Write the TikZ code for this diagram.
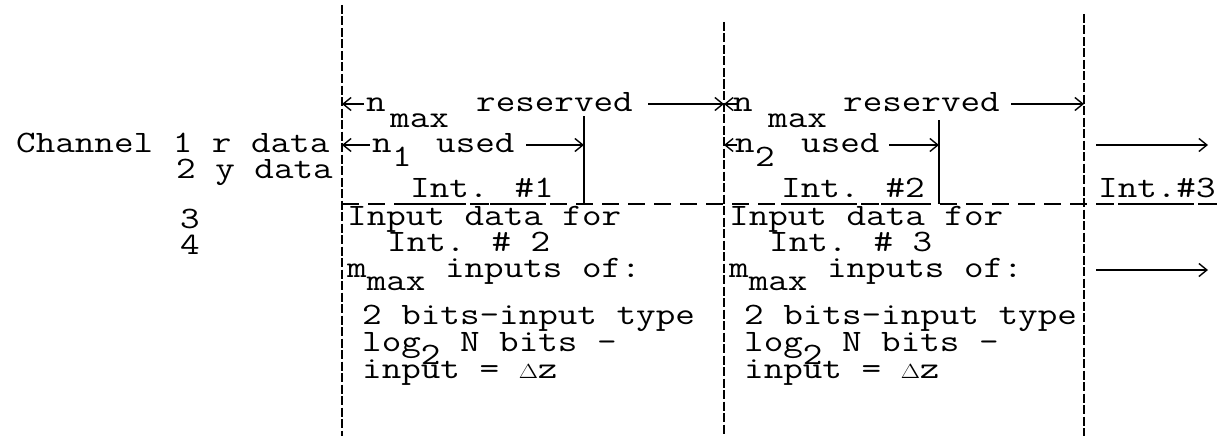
\documentclass[tikz,border=0pt]{standalone}
\usepackage{fontspec}
\usetikzlibrary{arrows.meta}
% a typed subscript: the carriage rolled down half a line
\newcommand\dn[1]{\raisebox{-17pt}{#1}}
\tikzset{
  txt/.style={font=\ttfamily\fontsize{38}{38}\selectfont, inner sep=0pt,
              anchor=base west, yscale=0.82},
  rule/.style={line width=1.1pt, dash pattern=on 9pt off 2.5pt},
  stopline/.style={line width=1.6pt},
  ruleh/.style={line width=1.6pt, dash pattern=on 17pt off 9pt},
  uline/.style={line width=1.6pt, dash pattern=on 16pt off 4pt},
  arr/.style={line width=1.5pt, -{Straight Barb[length=8pt,width=13pt,line width=1.4pt]}},
}
\begin{document}
\begin{tikzpicture}[x=1pt,y=-1pt]
\useasboundingbox (0,0) rectangle (1226,436);

% ---- column rules
\coordinate (r1t) at (342,5);   \coordinate (r1b) at (342,436);
\coordinate (r2t) at (724,22);  \coordinate (r2b) at (724,436);
\coordinate (r3t) at (1084,14); \coordinate (r3b) at (1084,436);
\draw[rule] (r1t) -- (r1b);
\draw[rule] (r2t) -- (r2b);
\draw[rule] (r3t) -- (r3b);

% ---- end of the used part of each interval
\coordinate (s1t) at (584,116); \coordinate (s1b) at (584,204);
\coordinate (s2t) at (939,120); \coordinate (s2b) at (939,204);
\draw[stopline] (s1t) -- (s1b);
\draw[stopline] (s2t) -- (s2b);

% ---- dashed boundary between the interval data and the input data
\coordinate (h0) at (342,204); \coordinate (h9) at (1222,204);
\draw[ruleh] (h0) -- (h9);

% ---- channel labels
\node[txt] (ch1) at (16,152) {Channel 1 r data};
\node[txt] (ch2) at (176,178) {2 y data};
\node[txt] (ch3) at (180,228) {3};
\node[txt] (ch4) at (180,254) {4};

% ---- interval 1: reserved / used
\coordinate (a1) at (364,104);
\draw[arr] (a1) -- (a1 -| r1t);
\node[txt] (n1r) at (366,111) {n};
\node[txt] (m1r) at (390,127) {max};
\node[txt] (res1) at (476,111) {reserved};
\coordinate (b1) at (648,104);
\draw[arr] (b1) -- (b1 -| r2t);

\coordinate (c1) at (370,145);
\draw[arr] (c1) -- (c1 -| r1t);
\node[txt] (n1u) at (372,152) {n};
\node[txt] (k1u) at (392,166) {1};
\node[txt] (used1) at (436,152) {used};
\coordinate (d1) at (526,145);
\draw[arr] (d1) -- (d1 -| s1t);

% ---- interval 2: reserved / used
\coordinate (a2) at (737,104);
\draw[arr] (a2) -- (a2 -| r2t);
\node[txt] (n2r) at (733,111) {n};
\node[txt] (m2r) at (768,127) {max};
\node[txt] (res2) at (843,111) {reserved};
\coordinate (b2) at (1011,104);
\draw[arr] (b2) -- (b2 -| r3t);

\coordinate (c2) at (737,145);
\draw[arr] (c2) -- (c2 -| r2t);
\node[txt] (n2u) at (735,152) {n};
\node[txt] (k2u) at (755,166) {2};
\node[txt] (used2) at (801,152) {used};
\coordinate (d2) at (889,145);
\draw[arr] (d2) -- (d2 -| s2t);

% ---- interval titles, typed with underscores
\node[txt] (int1) at (410,197) {Int. \#1};
\node[txt] (int2) at (781,197) {Int. \#2};
\node[txt] (int3) at (1098,197) {Int.\#3};
\foreach \n in {int1,int2,int3}
  \draw[uline] ([yshift=-7pt]\n.base west) -- ([yshift=-7pt]\n.base east);

% ---- input data blocks
\node[txt] (in1a) at (347,225) {Input data for};
\node[txt] (in1b) at (387,251) {Int. \# 2};
\node[txt] (in1c) at (347,277) {m\dn{max} inputs of:};
\node[txt] (in1d) at (362,324) {2 bits-input type};
\node[txt] (in1e) at (362,351) {log\dn{2} N bits -};
\node[txt] (in1f) at (362,378) {input = $\Delta$z};

\node[txt] (in2a) at (729,225) {Input data for};
\node[txt] (in2b) at (769,251) {Int. \# 3};
\node[txt] (in2c) at (729,277) {m\dn{max} inputs of:};
\node[txt] (in2d) at (744,324) {2 bits-input type};
\node[txt] (in2e) at (744,351) {log\dn{2} N bits -};
\node[txt] (in2f) at (744,378) {input = $\Delta$z};

% ---- continuation arrows
\coordinate (e1) at (1096,145); \coordinate (f1) at (1208,145);
\coordinate (e2) at (1096,270); \coordinate (f2) at (1208,270);
\draw[arr] (e1) -- (f1);
\draw[arr] (e2) -- (f2);
\end{tikzpicture}
\end{document}
